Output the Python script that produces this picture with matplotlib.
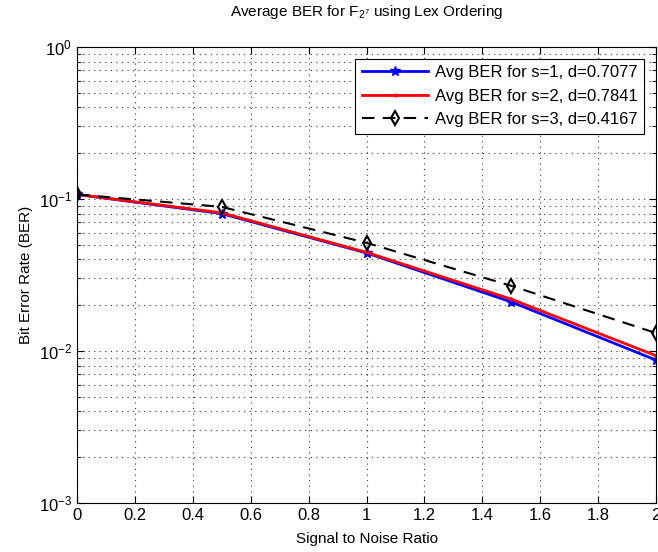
import matplotlib
matplotlib.use("Agg")
import matplotlib.pyplot as plt
import numpy as np

snr = [0, 0.5, 1.0, 1.5, 2.0]
ber_s1 = [0.107, 0.080, 0.0441, 0.0210, 0.0087]
ber_s2 = [0.107, 0.081, 0.0445, 0.0219, 0.0093]
ber_s3 = [0.107, 0.0886, 0.0514, 0.0268, 0.0131]
labels = ["Avg BER for s=1, d=0.7077", "Avg BER for s=2, d=0.7841", "Avg BER for s=3, d=0.4167"]
xticks = [0, 0.2, 0.4, 0.6, 0.8, 1, 1.2, 1.4, 1.6, 1.8, 2]
xticklabels = ["0", "0.2", "0.4", "0.6", "0.8", "1", "1.2", "1.4", "1.6", "1.8", "2"]

plt.rcParams['font.family'] = ['Liberation Sans', 'DejaVu Sans']
plt.rcParams['mathtext.default'] = 'regular'

fig = plt.figure(figsize=(6.58, 5.52), dpi=100)
ax = fig.add_axes([0.117, 0.089, 0.880, 0.826])

ax.semilogy(snr, ber_s1, color='#0000ff', lw=2, marker='*', ms=7, label=labels[0])
ax.semilogy(snr, ber_s2, color='#ff0000', lw=2, marker='.', ms=4, label=labels[1])
ax.semilogy(snr, ber_s3, color='black', lw=1.5, ls=(0, (6, 4)), marker='d', ms=7,
            mfc='none', mew=1.5, label=labels[2])

ax.set_xlim(0, 2)
ax.set_ylim(1e-3, 1e0)
ax.set_xticks(xticks)
ax.set_xticklabels(xticklabels)
ax.grid(True, which='major', ls=(0, (1, 4)), color='#333333', lw=0.8)
ax.grid(True, which='minor', axis='y', ls=(0, (1, 4)), color='#333333', lw=0.8)
ax.tick_params(which='both', direction='in', top=True, right=True, labelsize=12)
ax.tick_params(which='major', length=5)
ax.tick_params(which='minor', length=3)
for s in ax.spines.values():
    s.set_linewidth(0.8)

ax.set_xlabel('Signal to Noise Ratio', fontsize=11, labelpad=7)
ax.set_ylabel('Bit Error Rate (BER)', fontsize=11, labelpad=4)
ax.set_title(r'Average BER for F$_{2^7}$ using Lex Ordering', fontsize=11, pad=22)

leg = ax.legend(loc='upper right', fontsize=12, frameon=True, fancybox=False,
                edgecolor='black', framealpha=1, borderaxespad=0.7,
                handlelength=4, labelspacing=0.5, borderpad=0.4, handletextpad=0.4)
leg.get_frame().set_linewidth(0.8)

fig.savefig('out.png', dpi=100)
